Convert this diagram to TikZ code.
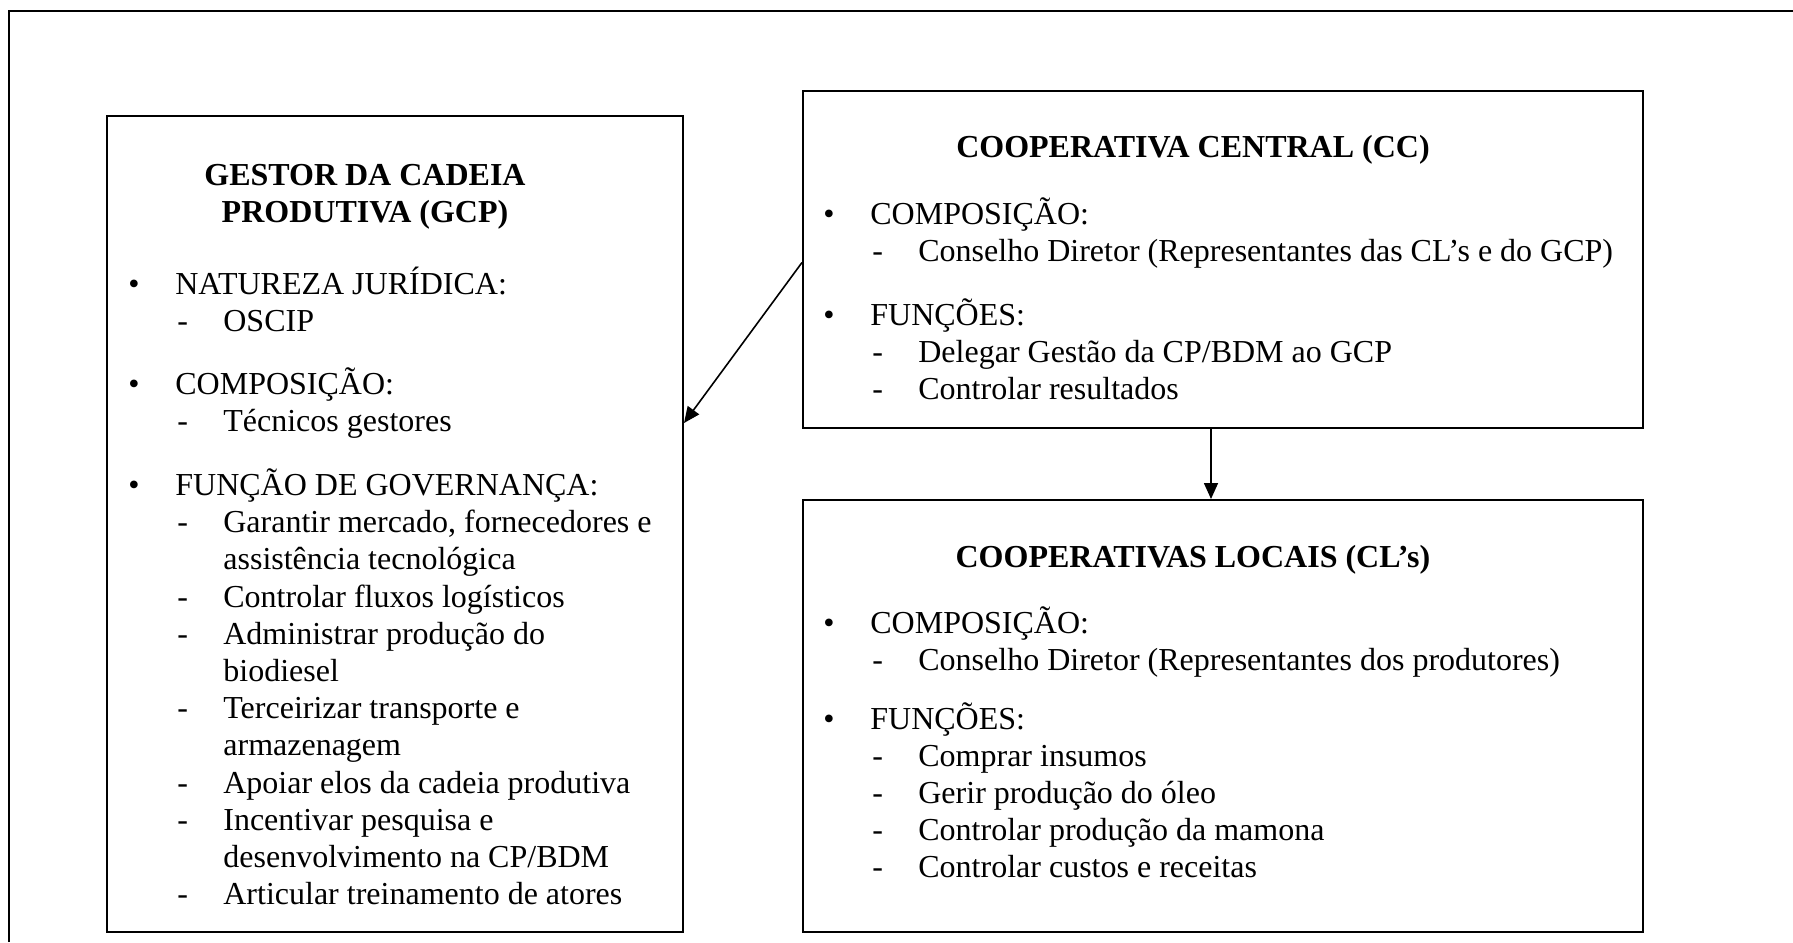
\documentclass[tikz,border=0pt]{standalone}
\usepackage{fontspec}
\setmainfont{Liberation Serif}
\usepackage{tikz}
\usetikzlibrary{arrows.meta,positioning,calc}
\newcommand{\txtsize}{\fontsize{16pt}{18.6pt}\selectfont}
\newcommand{\bul}[1]{\makebox[23.5pt][l]{\textbullet}#1}
\newcommand{\dsh}[1]{\hspace*{24.5pt}\makebox[23pt][l]{-}#1}
\newcommand{\cont}[1]{\hspace*{47.5pt}#1}
\tikzset{
  box/.style={draw, line width=1pt, inner sep=0pt, anchor=north west},
  boxtitle/.style={font=\txtsize\bfseries, align=center, inner sep=0pt},
  bodytext/.style={font=\txtsize, inner sep=0pt, anchor=base west},
  flow/.style={-{Triangle[length=8pt,width=7pt]}, line width=0.8pt},
}

\begin{document}
\begin{tikzpicture}[x=0.5pt, y=-0.5pt]
\useasboundingbox (0,0) rectangle (1793,942);
\draw[line width=1pt] (9,942) -- (9,11) -- (1793,11);

% the three boxes
\node[box, minimum width=288pt, minimum height=408pt] (gcp) at (106,115) {};
\node[box, minimum width=420pt, minimum height=168.5pt] (cc) at (802,90) {};
\node[box, minimum width=420pt, minimum height=216pt] (cl) at (802,499) {};

\node[boxtitle] (gcpTitle) at (365,197) {GESTOR DA CADEIA\\PRODUTIVA (GCP)};
\node[boxtitle] (ccTitle) at (1193,150) {COOPERATIVA CENTRAL (CC)};
\node[boxtitle] (clTitle) at (1193,560) {COOPERATIVAS LOCAIS (CL’s)};

\node[bodytext] (gcpBody) at (128,294) {\begin{tabular}[t]{@{}l@{}}
\bul{NATUREZA JURÍDICA:}\\
\dsh{OSCIP}\\[12.8pt]
\bul{COMPOSIÇÃO:}\\
\dsh{Técnicos gestores}\\[12.8pt]
\bul{FUNÇÃO DE GOVERNANÇA:}\\
\dsh{Garantir mercado, fornecedores e}\\
\cont{assistência tecnológica}\\
\dsh{Controlar fluxos logísticos}\\
\dsh{Administrar produção do}\\
\cont{biodiesel}\\
\dsh{Terceirizar transporte e}\\
\cont{armazenagem}\\
\dsh{Apoiar elos da cadeia produtiva}\\
\dsh{Incentivar pesquisa e}\\
\cont{desenvolvimento na CP/BDM}\\
\dsh{Articular treinamento de atores}
\end{tabular}};

\node[bodytext] (ccBody) at (823,224) {\begin{tabular}[t]{@{}l@{}}
\bul{COMPOSIÇÃO:}\\
\dsh{Conselho Diretor (Representantes das CL’s e do GCP)}\\[13pt]
\bul{FUNÇÕES:}\\
\dsh{Delegar Gestão da CP/BDM ao GCP}\\
\dsh{Controlar resultados}
\end{tabular}};

\node[bodytext] (clBody) at (823,633) {\begin{tabular}[t]{@{}l@{}}
\bul{COMPOSIÇÃO:}\\
\dsh{Conselho Diretor (Representantes dos produtores)}\\[10.5pt]
\bul{FUNÇÕES:}\\
\dsh{Comprar insumos}\\
\dsh{Gerir produção do óleo}\\
\dsh{Controlar produção da mamona}\\
\dsh{Controlar custos e receitas}
\end{tabular}};

\draw[flow] ($(cc.west)+(0,3)$) -- ($(gcp.north east)+(0,308)$);
\draw[flow] ($(cc.south)+(-12,0)$) -- ($(cl.north)+(-12,0)$);
\end{tikzpicture}
\end{document}
